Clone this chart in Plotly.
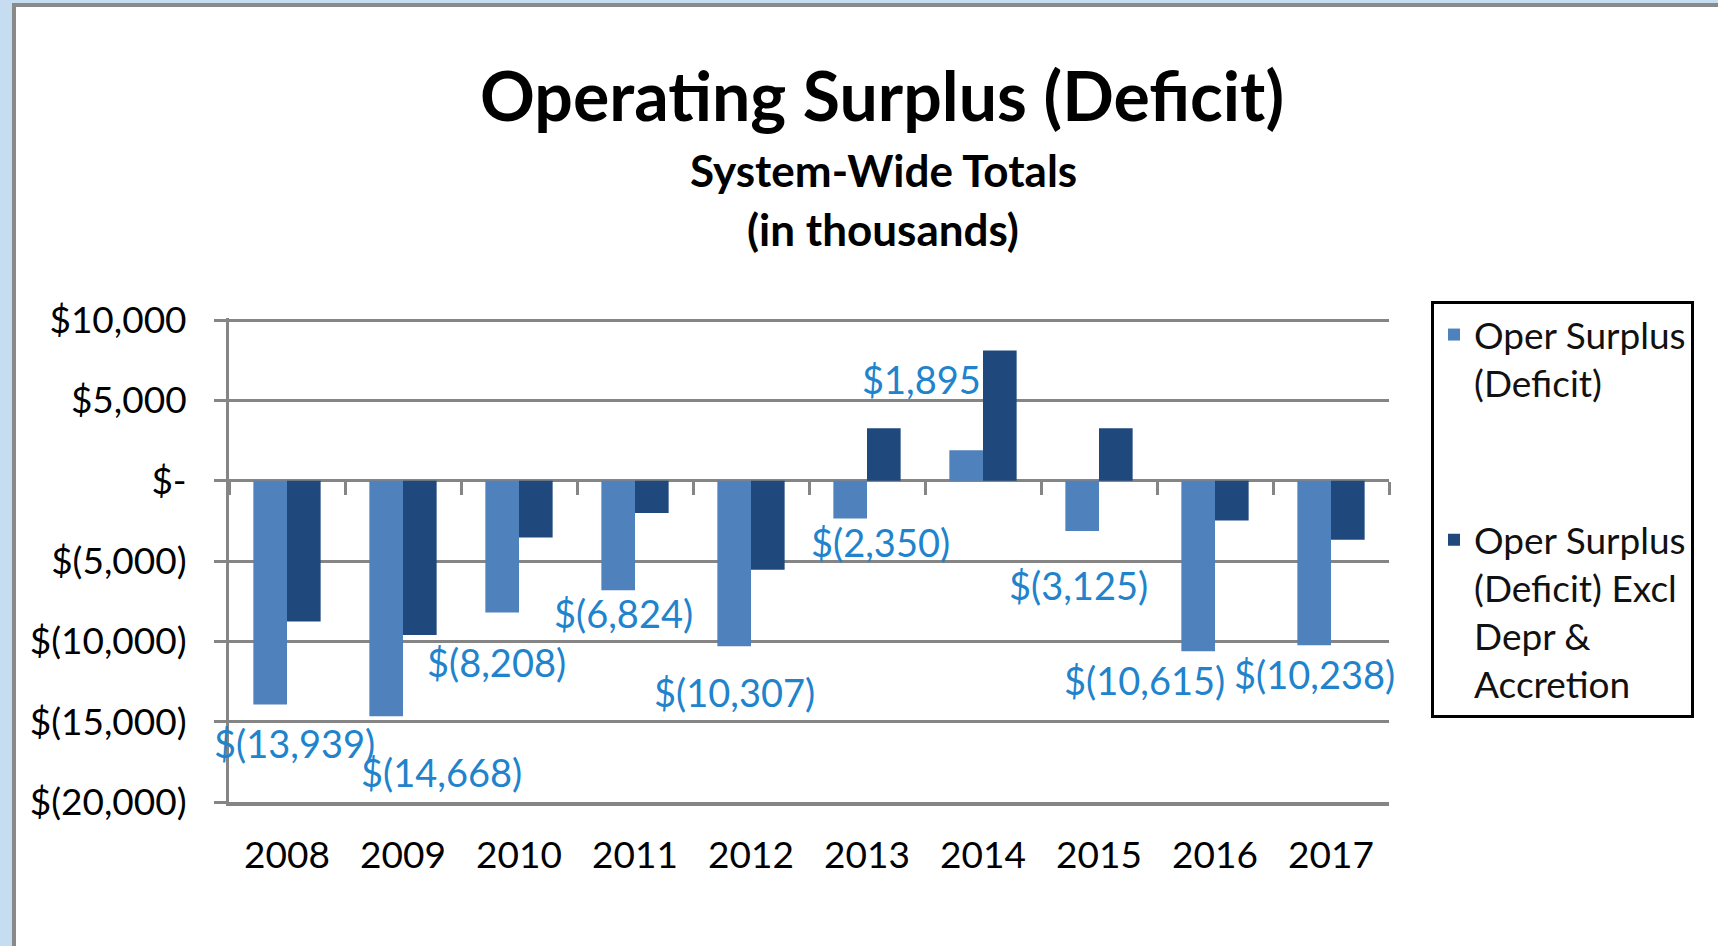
import plotly.graph_objects as go

# ---- data ----
years = ["2008", "2009", "2010", "2011", "2012", "2013", "2014", "2015", "2016", "2017"]
oper_surplus = [-13939, -14668, -8208, -6824, -10307, -2350, 1895, -3125, -10615, -10238]
oper_surplus_excl = [-8770, -9600, -3530, -2015, -5550, 3260, 8100, 3260, -2475, -3680]
ytick_vals = [10000, 5000, 0, -5000, -10000, -15000, -20000]
ytick_text = ["$10,000", "$5,000", "$-", "$(5,000)", "$(10,000)", "$(15,000)", "$(20,000)"]
series_names = ["Oper Surplus<br>(Deficit)", "Oper Surplus<br>(Deficit) Excl<br>Depr &<br>Accretion"]

# label placement offsets (pixels, manual placement as in the original)
label_dx = [7, 38, -23, -12, -17, 13, -62, -21, -71, -17]
label_dy = [-38, -56, -49, -23, -46, -24, 71, -54, -29, -29]

FONT = "Lato"
GRID = "#858585"
LIGHT = "#4F81BD"
DARK = "#1F497D"
LABEL = "#2183CC"

Y_MIN, Y_MAX = -20000, 10125


def fmt(v):
    if v < 0:
        return "$({:,})".format(-v)
    return "${:,}".format(v)


W, H = 1718, 946
ML, MR, MT, MB = 229, 329, 318, 144
PW, PH = W - ML - MR, H - MT - MB


def px_x(px):
    return (px - ML) / PW


def px_y(py):
    return (H - MB - py) / PH


fig = go.Figure()
fig.add_trace(go.Bar(x=years, y=oper_surplus, name=series_names[0], marker_color=LIGHT,
                     marker_line_width=0, legendgroup="a"))
fig.add_trace(go.Bar(x=years, y=oper_surplus_excl, name=series_names[1], marker_color=DARK,
                     marker_line_width=0, legendgroup="b"))
# helper trace for the category axis drawn through zero (tick marks only)
fig.add_trace(go.Scatter(x=years, y=[None] * len(years), xaxis="x2", showlegend=False,
                         hoverinfo="skip", mode="markers"))

annotations = []
for i, v in enumerate(oper_surplus):
    annotations.append(dict(x=i, y=v, xref="x", yref="y", text=fmt(v), showarrow=False,
                            xanchor="center", yanchor="middle",
                            xshift=label_dx[i], yshift=label_dy[i],
                            font=dict(family=FONT, size=38, color=LABEL)))

annotations += [
    dict(x=px_x(882), y=px_y(94), xref="paper", yref="paper", showarrow=False,
         text="<b>Operating Surplus (Deficit)</b>", xanchor="center", yanchor="middle",
         font=dict(family=FONT, size=68, color="black")),
    dict(x=px_x(883), y=px_y(170), xref="paper", yref="paper", showarrow=False,
         text="<b>System-Wide Totals</b>", xanchor="center", yanchor="middle",
         font=dict(family=FONT, size=44, color="black")),
    dict(x=px_x(883), y=px_y(229), xref="paper", yref="paper", showarrow=False,
         text="<b>(in thousands)</b>", xanchor="center", yanchor="middle",
         font=dict(family=FONT, size=44, color="black")),
]

shapes = [
    dict(type="rect", xref="paper", yref="paper", layer="below",
         x0=px_x(14), x1=px_x(W + 20), y0=px_y(H + 20), y1=px_y(5),
         fillcolor="white", line=dict(color="#8A8A8A", width=4)),
]

fig.update_layout(
    width=W, height=H, autosize=False,
    margin=dict(l=ML, r=MR, t=MT, b=MB, pad=0),
    paper_bgcolor="#C6DCF1", plot_bgcolor="rgba(0,0,0,0)",
    barmode="group", bargap=0.42, bargroupgap=0,
    font=dict(family=FONT, size=34, color="black"),
    showlegend=True,
    legend=dict(x=px_x(1431), y=px_y(301), xanchor="left", yanchor="top",
                bordercolor="black", borderwidth=3, bgcolor="white",
                font=dict(family=FONT, size=37, color="#111111"),
                tracegroupgap=106, valign="top", traceorder="grouped"),
    xaxis=dict(type="category", range=[-0.5, 9.5], showgrid=False, zeroline=False,
               showline=True, linecolor=GRID, linewidth=3.5, ticks="", ticklabelstandoff=18,
               tickfont=dict(family=FONT, size=37, color="black")),
    xaxis2=dict(type="category", overlaying="x", anchor="free",
                position=(0 - Y_MIN) / (Y_MAX - Y_MIN),
                range=[-0.5, 9.5], matches="x", showgrid=False, zeroline=False, showline=False,
                ticks="outside", ticklen=13, tickwidth=3, tickcolor=GRID,
                tickson="boundaries", showticklabels=False),
    yaxis=dict(range=[Y_MIN, Y_MAX], tickvals=ytick_vals, ticktext=ytick_text,
               showgrid=True, gridcolor=GRID, gridwidth=3,
               zeroline=True, zerolinecolor=GRID, zerolinewidth=3,
               showline=True, linecolor=GRID, linewidth=3,
               ticks="outside", ticklen=12, tickwidth=3, tickcolor=GRID,
               ticklabelstandoff=20,
               tickfont=dict(family=FONT, size=37, color="black")),
    annotations=annotations,
    shapes=shapes,
)

fig.write_html("out.html", config={"displayModeBar": False},
               post_script="document.body.style.margin='0';document.body.style.overflow='hidden';")
